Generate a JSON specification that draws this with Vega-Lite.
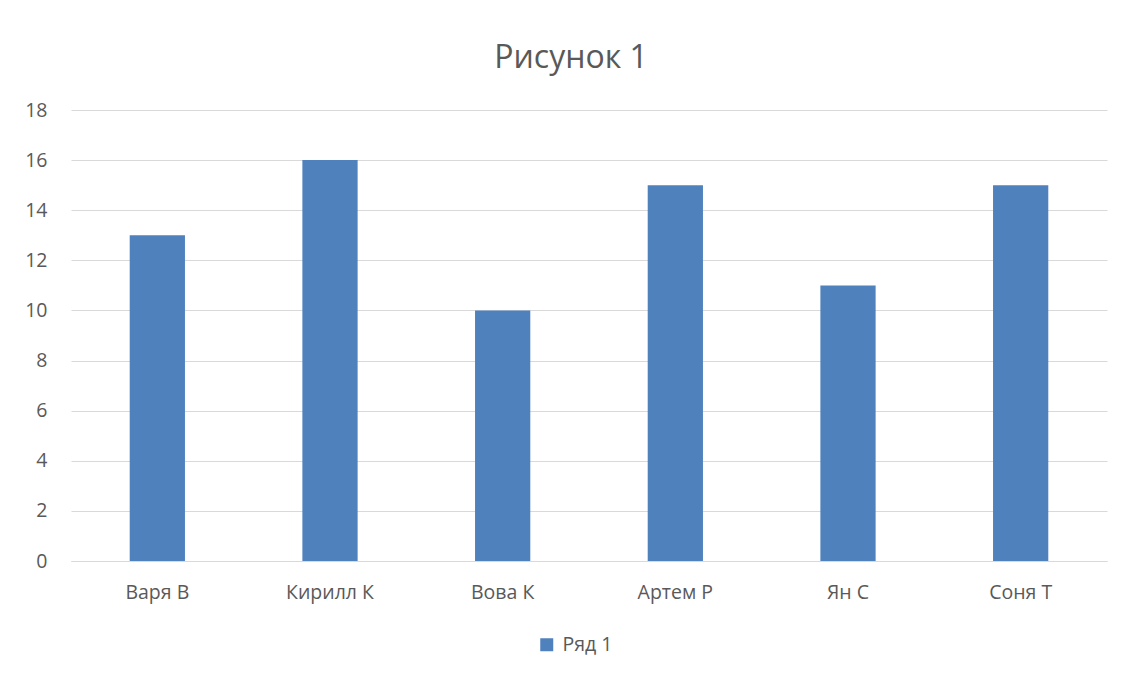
{
  "$schema": "https://vega.github.io/schema/vega-lite/v6.json",
  "width": 1036,
  "height": 451,
  "autosize": {"type": "none"},
  "padding": {"left": 71, "top": 110, "right": 17, "bottom": 114},
  "background": "white",
  "title": {
    "text": "Рисунок 1",
    "fontSize": 32,
    "font": "Open Sans",
    "fontWeight": "normal",
    "color": "#595959",
    "anchor": "middle",
    "baseline": "alphabetic",
    "dx": -18,
    "offset": 0
  },
  "data": {
    "values": [
      {"name": "Варя В", "value": 13, "series": "Ряд 1"},
      {"name": "Кирилл К", "value": 16, "series": "Ряд 1"},
      {"name": "Вова К", "value": 10, "series": "Ряд 1"},
      {"name": "Артем Р", "value": 15, "series": "Ряд 1"},
      {"name": "Ян С", "value": 11, "series": "Ряд 1"},
      {"name": "Соня Т", "value": 15, "series": "Ряд 1"}
    ]
  },
  "mark": {"type": "bar"},
  "encoding": {
    "x": {
      "field": "name",
      "type": "nominal",
      "sort": null,
      "title": null,
      "scale": {"paddingInner": 0.68, "paddingOuter": 0.34},
      "axis": {
        "labelAngle": 0,
        "ticks": false,
        "domain": true,
        "domainColor": "#d9d9d9",
        "labelFont": "Open Sans",
        "labelFontSize": 19.5,
        "labelColor": "#595959",
        "labelBaseline": "alphabetic",
        "labelPadding": 37
      }
    },
    "y": {
      "field": "value",
      "type": "quantitative",
      "title": null,
      "scale": {"domain": [0, 18]},
      "axis": {
        "values": [0, 2, 4, 6, 8, 10, 12, 14, 16, 18],
        "ticks": false,
        "domain": false,
        "gridColor": "#d9d9d9",
        "gridWidth": 1,
        "labelFont": "Open Sans",
        "labelFontSize": 19.5,
        "labelColor": "#595959",
        "labelPadding": 24
      }
    },
    "color": {
      "field": "series",
      "type": "nominal",
      "scale": {"range": ["#4f81bd"]},
      "legend": {
        "title": null,
        "orient": "none",
        "legendX": 466,
        "legendY": 525,
        "symbolType": "square",
        "symbolSize": 169,
        "symbolStrokeWidth": 0,
        "labelFont": "Open Sans",
        "labelFontSize": 19.5,
        "labelColor": "#595959",
        "labelOffset": 6
      }
    }
  },
  "config": {
    "view": {"stroke": null}
  }
}
